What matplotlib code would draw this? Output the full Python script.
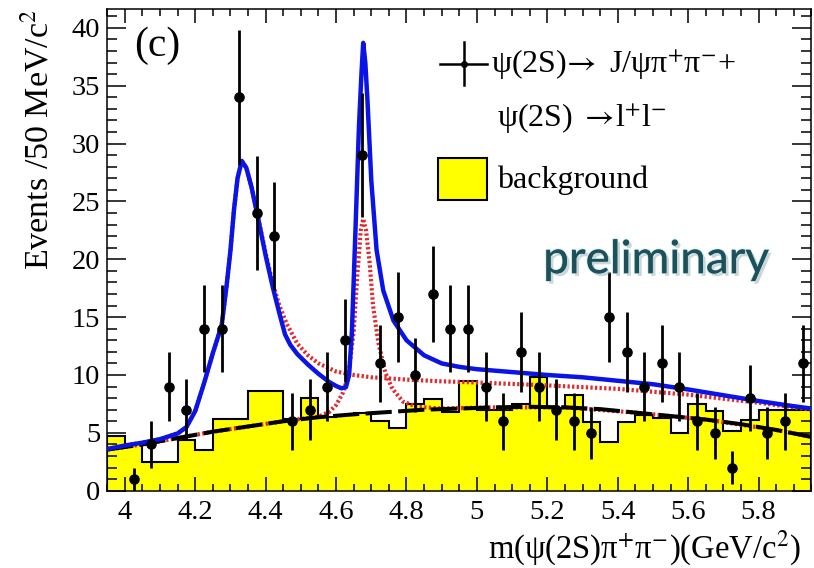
import matplotlib
matplotlib.use("Agg")
import matplotlib.pyplot as plt
import matplotlib.patheffects as pe
import numpy as np
from matplotlib.patches import Rectangle
from matplotlib.ticker import FixedLocator, MultipleLocator

# binning of the mass spectrum (GeV/c^2)
bin_lo = 3.95
bin_width = 0.05

# data: events per 50 MeV bin
counts = [0, 1, 4, 9, 7, 14, 14, 34, 24, 22,
          6, 7, 9, 13, 29, 11, 15, 10, 17, 14,
          14, 9, 6, 12, 9, 7, 6, 5, 15, 12,
          9, 11, 9, 6, 5, 2, 8, 5, 6, 11]

# background histogram (yellow)
bkg_hist = [4.7, 4.0, 2.5, 2.5, 4.4, 3.5, 6.2, 6.2, 8.65, 8.65,
            6.2, 8.0, 6.4, 6.5, 6.7, 6.0, 5.4, 7.5, 7.9, 6.8,
            9.45, 6.95, 7.0, 7.45, 9.8, 7.15, 8.25, 5.95, 4.2, 5.9,
            6.5, 6.3, 4.95, 7.45, 6.85, 5.2, 6.1, 7.0, 7.0, 7.0]

# total fit (blue)
fit_x = [3.95, 4.00, 4.05, 4.10, 4.15, 4.175, 4.20, 4.225, 4.25, 4.275,
         4.29, 4.30, 4.31, 4.32, 4.332, 4.345, 4.36, 4.38, 4.40, 4.42,
         4.44, 4.455, 4.47, 4.49, 4.52, 4.55, 4.58, 4.60, 4.615, 4.628,
         4.637, 4.645, 4.655, 4.665, 4.672, 4.677, 4.683, 4.689, 4.70, 4.715,
         4.734, 4.763, 4.80, 4.85, 4.90, 4.95, 5.00, 5.10, 5.20, 5.30,
         5.40, 5.50, 5.60, 5.70, 5.80, 5.90, 5.95]
fit_y = [3.6, 3.9, 4.15, 4.45, 4.95, 5.5, 6.9, 9.3, 11.9, 14.3,
         18.0, 20.8, 24.3, 27.0, 28.5, 27.9, 26.2, 23.3, 20.3, 17.6,
         15.2, 13.5, 12.6, 11.8, 10.9, 10.1, 9.4, 9.05, 8.85, 8.95,
         10.0, 13.8, 22.5, 31.5, 36.0, 38.7, 37.0, 33.8, 26.8, 20.8,
         17.3, 14.7, 13.0, 11.7, 11.0, 10.7, 10.5, 10.25, 10.0, 9.8,
         9.5, 9.2, 8.75, 8.25, 7.75, 7.3, 7.1]

# Y(4360) + background component (red dotted)
comp1_x = [3.95, 4.00, 4.05, 4.10, 4.15, 4.175, 4.20, 4.225, 4.25, 4.275,
           4.29, 4.30, 4.31, 4.32, 4.332, 4.345, 4.36, 4.38, 4.40, 4.42,
           4.44, 4.46, 4.49, 4.52, 4.55, 4.60, 4.65, 4.70, 4.80, 4.90,
           5.00, 5.20, 5.40, 5.60, 5.80, 5.95]
comp1_y = [3.6, 3.9, 4.15, 4.45, 4.95, 5.5, 6.9, 9.3, 11.9, 14.3,
           18.0, 20.8, 24.3, 27.0, 28.5, 27.9, 26.2, 23.4, 20.5, 17.9,
           15.9, 14.4, 12.7, 11.7, 11.0, 10.3, 10.0, 9.8, 9.6, 9.45,
           9.35, 9.1, 8.8, 8.3, 7.6, 7.0]

# Y(4660) + background component (red dotted)
comp2_x = [3.95, 4.05, 4.15, 4.25, 4.35, 4.45, 4.55, 4.58, 4.60, 4.62,
           4.635, 4.65, 4.66, 4.67, 4.677, 4.685, 4.695, 4.705, 4.72, 4.74,
           4.76, 4.79, 4.83, 4.90, 5.05, 5.25, 5.45, 5.65, 5.85, 5.95]
comp2_y = [3.55, 4.0, 4.55, 5.1, 5.55, 6.0, 6.4, 6.8, 7.4, 8.5,
           10.0, 13.8, 18.5, 22.5, 23.5, 22.5, 19.8, 16.0, 12.8, 10.2,
           8.8, 7.7, 7.25, 7.1, 7.2, 7.2, 6.75, 6.15, 5.25, 4.65]

# background fit (black dashed)
bkgfit_x = [3.95, 4.05, 4.15, 4.25, 4.35, 4.45, 4.55, 4.65, 4.75, 4.85,
            4.95, 5.05, 5.15, 5.25, 5.35, 5.45, 5.55, 5.65, 5.75, 5.85, 5.95]
bkgfit_y = [3.55, 4.0, 4.55, 5.1, 5.55, 6.0, 6.35, 6.6, 6.8, 7.0,
            7.1, 7.2, 7.25, 7.2, 7.05, 6.75, 6.45, 6.15, 5.75, 5.25, 4.65]

x_ticks = [4.0, 4.2, 4.4, 4.6, 4.8, 5.0, 5.2, 5.4, 5.6, 5.8]
x_ticklabels = ["4", "4.2", "4.4", "4.6", "4.8", "5", "5.2", "5.4", "5.6", "5.8"]

YELLOW = "#ffff00"
BLUE = "#0a14e6"
RED = "#e02a2e"

plt.rcParams["font.family"] = ["Liberation Serif", "DejaVu Serif"]
plt.rcParams["mathtext.fontset"] = "stix"

fig = plt.figure(figsize=(8.14, 5.68), dpi=100)
ax = fig.add_axes([0.1318, 0.1361, 0.8649, 0.8475])

n = len(counts)
edges = bin_lo + bin_width * np.arange(n + 1)
centers = edges[:-1] + bin_width / 2
cnt = np.array(counts, dtype=float)

ax.stairs(bkg_hist, edges, fill=True, color=YELLOW, zorder=1)
ax.stairs(bkg_hist, edges, baseline=0, color="black", linewidth=1.5, zorder=1.5)

ax.plot(comp1_x, comp1_y, color=RED, linewidth=3.0, linestyle=(0, (0.55, 0.55)), zorder=2)
ax.plot(comp2_x, comp2_y, color=RED, linewidth=3.0, linestyle=(0, (0.55, 0.55)), zorder=2)
ax.plot(bkgfit_x, bkgfit_y, color="black", linewidth=2.9, linestyle=(0, (6.5, 1.6)),
        zorder=3)
ax.plot(fit_x, fit_y, color=BLUE, linewidth=3.2, zorder=4, solid_joinstyle="round")

m = cnt > 0
ax.errorbar(centers[m], cnt[m], yerr=np.sqrt(cnt[m]), fmt="o", color="black",
            markersize=6.6, elinewidth=2.0, capsize=0, zorder=5)

ax.set_xlim(edges[0], edges[-1])
ax.set_ylim(0, 41.6)

ax.xaxis.set_major_locator(FixedLocator(x_ticks))
ax.set_xticklabels(x_ticklabels)
ax.xaxis.set_minor_locator(MultipleLocator(0.05))
ax.yaxis.set_major_locator(MultipleLocator(5))
ax.yaxis.set_minor_locator(MultipleLocator(1))
ax.tick_params(axis="both", which="both", direction="in", top=True, right=True,
               width=1.1, labelsize=20.5)
ax.tick_params(axis="y", which="major", length=14, pad=5)
ax.tick_params(axis="y", which="minor", length=7)
ax.tick_params(axis="x", which="major", length=10, pad=7)
ax.tick_params(axis="x", which="minor", length=5)
for sp in ax.spines.values():
    sp.set_linewidth(1.1)

fig.text(0.049, 0.985, "Events /50 MeV/c$^{2}$", rotation=90, ha="center", va="top",
         fontsize=24.5)
fig.text(0.984, 0.035, "m(ψ(2S)π$^{+}$π$^{-}$)(GeV/c$^{2}$)", ha="right", va="center",
         fontsize=23.5)

ax.text(0.071, 0.924, "(c)", transform=ax.transAxes, ha="center", va="center",
        fontsize=30)

# legend drawn by hand, ROOT style
ax.plot([0.473, 0.540], [0.886, 0.886], transform=ax.transAxes, color="black",
        linewidth=1.8, clip_on=False)
ax.plot([0.507, 0.507], [0.843, 0.932], transform=ax.transAxes, color="black",
        linewidth=1.8, clip_on=False)
ax.plot([0.507], [0.886], "o", transform=ax.transAxes, color="black", markersize=4)
ax.text(0.545, 0.886, r"ψ(2S)$\!\rightarrow$ J/ψπ$^{+}$π$^{-}$+", transform=ax.transAxes,
        ha="left", va="center", fontsize=23)
ax.text(0.5535, 0.774, r"ψ(2S) $\rightarrow\!$l$^{+}$l$^{-}$", transform=ax.transAxes,
        ha="left", va="center", fontsize=23)
ax.add_patch(Rectangle((0.470, 0.604), 0.070, 0.087, transform=ax.transAxes,
                       facecolor=YELLOW, edgecolor="black", linewidth=1.5))
ax.text(0.5535, 0.645, "background", transform=ax.transAxes, ha="left", va="center",
        fontsize=23)

ax.text(0.780, 0.452, "preliminary", transform=ax.transAxes, ha="center",
        va="baseline", fontsize=33, family="Lato", color="#1f4f58",
        path_effects=[pe.SimplePatchShadow(offset=(2, -2), shadow_rgbFace="#a0aaad",
                                           alpha=0.5),
                      pe.withStroke(linewidth=1.2, foreground="#a9dde6"),
                      pe.Normal()],
        zorder=6)

fig.savefig("out.png", dpi=100)
